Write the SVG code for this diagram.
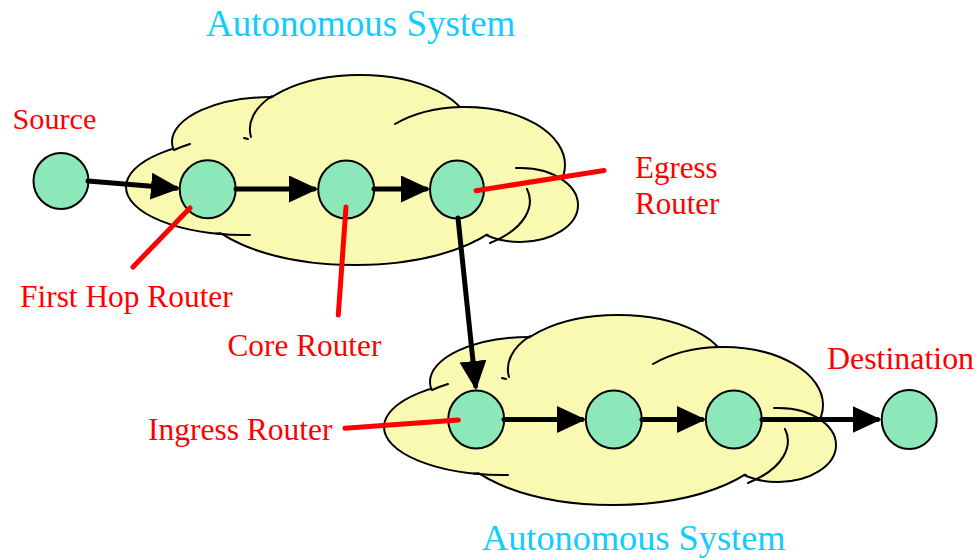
<svg xmlns="http://www.w3.org/2000/svg" xmlns:xlink="http://www.w3.org/1999/xlink" width="980" height="559" viewBox="0 0 980 559">
  <style>
    .lobe-line { fill: #f9f9b1; stroke: #000; stroke-width: 2; }
    .lobe-fill { fill: #f9f9b1; stroke: none; }
    .crease { fill: none; stroke: #000; stroke-width: 2; stroke-linecap: round; }
    .node { fill: #8ce8b9; stroke: #000; stroke-width: 2; }
    .flow { fill: none; stroke: #000; stroke-width: 5; stroke-linecap: round; marker-end: url(#head); }
    .pointer { fill: none; stroke: #ff0000; stroke-width: 5; stroke-linecap: round; }
    .label { font-family: "Liberation Serif", "Times New Roman", serif; fill: #ff0000; }
    .title { font-family: "Liberation Serif", "Times New Roman", serif; fill: #11ccff; }
  </style>
  <defs>
    <marker id="head" markerUnits="userSpaceOnUse" markerWidth="30" markerHeight="28" refX="25" refY="13.5" orient="auto">
      <path d="M0,0 L29,13.5 L0,27 Z" fill="#000"/>
    </marker>
    <!-- cloud built from overlapping ellipses: outlined pass, fill pass, then creases -->
    <g id="cloudShape">
      <ellipse class="lobe-line" cx="245" cy="187" rx="119" ry="48"/>
      <ellipse class="lobe-line" cx="272" cy="142" rx="100" ry="45"/>
      <ellipse class="lobe-line" cx="360" cy="130" rx="110" ry="55"/>
      <ellipse class="lobe-line" cx="465" cy="165" rx="100" ry="58"/>
      <ellipse class="lobe-line" cx="520" cy="205" rx="58" ry="37"/>
      <ellipse class="lobe-line" cx="355" cy="195" rx="160" ry="70"/>
      <ellipse class="lobe-fill" cx="245" cy="187" rx="117.5" ry="46.5"/>
      <ellipse class="lobe-fill" cx="272" cy="142" rx="98.5" ry="43.5"/>
      <ellipse class="lobe-fill" cx="360" cy="130" rx="108.5" ry="53.5"/>
      <ellipse class="lobe-fill" cx="465" cy="165" rx="98.5" ry="56.5"/>
      <ellipse class="lobe-fill" cx="520" cy="205" rx="56.5" ry="35.5"/>
      <ellipse class="lobe-fill" cx="355" cy="195" rx="158.5" ry="68.5"/>
      <path class="crease" d="M272 96 A110 55 0 0 0 251 137"/>
      <path class="crease" d="M395 124 A100 58 0 0 1 460 107"/>
      <path class="crease" d="M516 168 A58 37 0 0 1 563 180"/>
      <path class="crease" d="M527 189 C535 205 527 228 490 243"/>
      <path class="crease" d="M174 150 A119 48 0 0 1 190 144"/>
      <path class="crease" d="M216 233.5 Q234 235.5 250 235"/>
      <path class="crease" d="M244 138 L248 139"/>
    </g>
  </defs>

  <!-- autonomous systems -->
  <g id="as-upper">
    <use xlink:href="#cloudShape"/>
  </g>
  <g id="as-lower">
    <use xlink:href="#cloudShape" transform="translate(258,240)"/>
  </g>

  <!-- routers and hosts -->
  <g id="source"><ellipse class="node" cx="61" cy="181" rx="27.5" ry="28"/></g>
  <g id="first-hop"><ellipse class="node" cx="207.7" cy="189.3" rx="28" ry="29"/></g>
  <g id="core"><ellipse class="node" cx="346.2" cy="189.5" rx="28" ry="29"/></g>
  <g id="egress"><ellipse class="node" cx="457" cy="189.5" rx="27" ry="29"/></g>
  <g id="ingress"><ellipse class="node" cx="476.2" cy="419.5" rx="28" ry="29"/></g>
  <g id="core-2"><ellipse class="node" cx="613.8" cy="419.5" rx="28" ry="29"/></g>
  <g id="egress-2"><ellipse class="node" cx="733.8" cy="419.5" rx="28" ry="29"/></g>
  <g id="destination"><ellipse class="node" cx="909.2" cy="419.5" rx="27.5" ry="29.5"/></g>

  <!-- connectors -->
  <g id="connectors">
    <line class="flow" x1="88" y1="181" x2="176" y2="188.2"/>
    <line class="flow" x1="236" y1="189" x2="314" y2="189"/>
    <line class="flow" x1="374" y1="189" x2="426" y2="189"/>
    <line class="flow" x1="458" y1="218" x2="475.6" y2="386"/>
    <line class="flow" x1="504" y1="419.5" x2="582" y2="419.5"/>
    <line class="flow" x1="642" y1="419.5" x2="702" y2="419.5"/>
    <line class="flow" x1="762" y1="419.5" x2="877.5" y2="419.5"/>
    <line class="pointer" x1="190" y1="208" x2="133" y2="267"/>
    <line class="pointer" x1="346" y1="207" x2="338.3" y2="315"/>
    <line class="pointer" x1="476" y1="190.7" x2="604" y2="170.5"/>
    <line class="pointer" x1="458.3" y1="420" x2="345" y2="428.3"/>
  </g>

  <!-- labels -->
  <g id="labels">
    <text class="title" x="206" y="36" font-size="37">Autonomous System</text>
    <text class="title" x="482" y="550" font-size="36.3">Autonomous System</text>
    <text class="label" x="12.5" y="129" font-size="30.2">Source</text>
    <text class="label" x="20" y="307" font-size="31.4">First Hop Router</text>
    <text class="label" x="227.5" y="356" font-size="31.3">Core Router</text>
    <text class="label" x="148" y="440" font-size="31.5">Ingress Router</text>
    <text class="label" x="635" y="178.3" font-size="31">Egress</text>
    <text class="label" x="635" y="214.3" font-size="31">Router</text>
    <text class="label" x="827" y="369" font-size="31.9">Destination</text>
  </g>
</svg>
